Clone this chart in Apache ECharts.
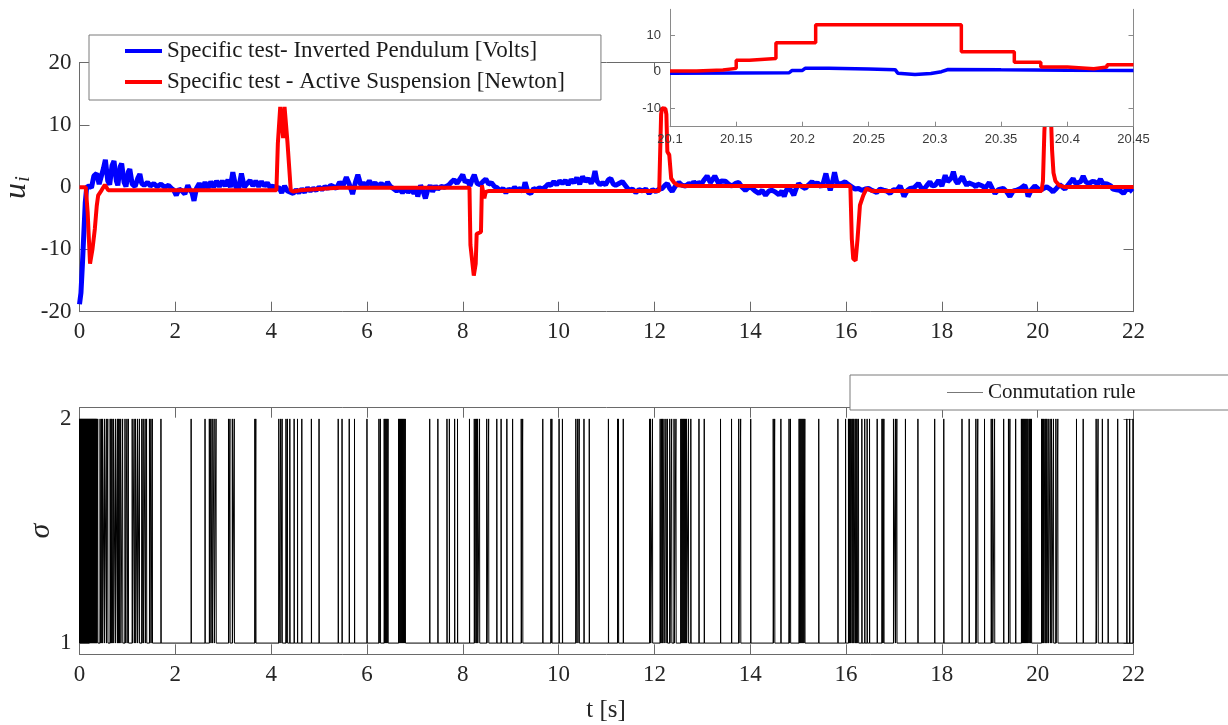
<!DOCTYPE html>
<html>
<head>
<meta charset="utf-8">
<script src="https://cdn.jsdelivr.net/npm/echarts@6/dist/echarts.min.js"></script>
<style>
  html, body { margin: 0; background: #fff; }
  #chart { width: 1228px; height: 725px; }
</style>
</head>
<body>
<div id="chart"></div>
<script>
// main plot: [t, u]
const pendulumMain = [
  [0.00,-18.8],[0.03,-17.0],[0.06,-12.5],[0.09,-7.5],[0.12,-2.5],[0.15,0.0],[0.20,0.2],[0.25,-0.1],
  [0.30,1.8],[0.36,2.2],[0.41,0.5],[0.45,0.3],[0.50,3.0],[0.54,4.4],[0.59,1.0],[0.63,0.4],
  [0.68,3.5],[0.72,4.2],[0.77,1.0],[0.80,0.3],[0.85,3.3],[0.88,3.8],[0.93,0.8],[0.97,0.1],
  [1.02,2.5],[1.05,2.9],[1.10,0.5],[1.16,0.1],[1.22,1.5],[1.26,2.1],[1.30,0.6],[1.35,0.3],
  [1.42,0.8],[1.48,0.2],[1.55,0.6],[1.62,0.1],[1.70,0.5],[1.78,0.0],[1.86,0.3],[1.92,-0.2],
  [1.97,-0.5],[2.02,-1.3],[2.08,-0.3],[2.14,-0.6],[2.20,-1.1],[2.26,0.3],[2.30,-0.4],[2.35,-0.9],
  [2.39,-2.2],[2.44,-0.2],[2.50,0.6],[2.56,-0.3],[2.62,0.8],[2.68,-0.2],[2.74,0.9],[2.80,0.0],
  [2.86,1.0],[2.92,0.1],[2.98,1.0],[3.04,0.2],[3.10,1.2],[3.15,0.0],[3.20,2.4],[3.26,0.1],
  [3.32,-0.3],[3.38,2.2],[3.44,0.0],[3.50,0.6],[3.56,1.1],[3.62,0.2],[3.68,1.0],[3.74,0.1],
  [3.80,0.9],[3.86,0.2],[3.92,0.7],[3.98,-0.1],[4.04,0.2],[4.10,-0.3],[4.16,0.0],[4.22,-0.9],
  [4.28,0.2],[4.34,-0.6],[4.40,-0.8],[4.46,-1.0],[4.52,-0.4],[4.58,-0.9],[4.64,-0.3],[4.70,-0.8],
  [4.76,-0.1],[4.82,-0.6],[4.88,-0.2],[4.94,-0.5],[5.00,0.0],[5.06,-0.4],[5.12,0.1],[5.18,-0.2],
  [5.24,0.3],[5.30,0.1],[5.36,-0.2],[5.43,0.8],[5.50,0.2],[5.57,1.6],[5.63,0.5],[5.70,-1.1],
  [5.76,0.8],[5.81,2.0],[5.87,0.4],[5.93,0.6],[5.99,0.3],[6.05,1.0],[6.11,0.3],[6.17,0.7],
  [6.23,0.2],[6.30,0.6],[6.37,0.0],[6.43,0.8],[6.48,0.2],[6.55,-0.2],[6.62,-0.6],[6.68,-0.3],
  [6.74,-0.9],[6.80,-0.2],[6.86,-0.8],[6.92,-0.3],[6.98,-1.0],[7.03,-0.2],[7.06,-1.5],[7.12,0.3],
  [7.17,-0.6],[7.22,-1.8],[7.27,-0.4],[7.32,0.3],[7.37,-0.7],[7.43,0.2],[7.48,-0.3],[7.55,0.1],
  [7.62,0.0],[7.70,0.3],[7.76,0.8],[7.82,1.2],[7.88,0.6],[7.94,1.3],[8.00,2.0],[8.05,0.8],
  [8.10,1.1],[8.15,0.2],[8.20,1.3],[8.24,2.0],[8.30,0.6],[8.36,0.4],[8.42,0.9],[8.48,1.3],
  [8.54,0.5],[8.60,0.7],[8.66,0.1],[8.72,-0.1],[8.78,-0.6],[8.84,-0.2],[8.90,-0.9],[8.96,-0.3],
  [9.02,-0.6],[9.08,0.0],[9.14,-0.5],[9.20,-0.2],[9.26,-0.7],[9.30,0.8],[9.36,-0.8],[9.42,-1.0],
  [9.48,-0.2],[9.54,-0.4],[9.60,-0.1],[9.66,-0.3],[9.72,0.0],[9.78,0.5],[9.84,0.3],[9.90,0.9],
  [9.96,0.4],[10.02,1.0],[10.08,0.6],[10.14,1.1],[10.20,0.4],[10.26,1.2],[10.32,0.7],[10.38,1.5],
  [10.44,0.5],[10.50,1.7],[10.56,0.9],[10.62,1.4],[10.68,0.6],[10.72,1.2],[10.76,2.6],[10.80,1.0],
  [10.86,0.4],[10.92,0.7],[10.98,0.4],[11.04,1.2],[11.09,1.4],[11.14,0.5],[11.19,0.3],[11.26,0.6],
  [11.33,0.9],[11.40,0.2],[11.47,-0.5],[11.54,-0.3],[11.61,-0.85],[11.68,-0.4],[11.75,-0.6],[11.82,-0.3],
  [11.89,-1.0],[11.96,-0.4],[12.03,-0.7],[12.10,-0.3],[12.16,-0.2],[12.22,0.3],[12.27,0.6],[12.32,-0.2],
  [12.37,-0.7],[12.44,0.2],[12.51,0.75],[12.58,0.3],[12.65,0.2],[12.72,0.6],[12.78,0.3],[12.82,0.9],
  [12.87,0.4],[12.92,0.75],[12.98,0.5],[13.04,1.2],[13.10,1.8],[13.17,0.75],[13.22,1.3],[13.26,1.8],
  [13.34,0.6],[13.40,1.0],[13.48,0.97],[13.55,0.5],[13.62,0.2],[13.69,0.6],[13.76,0.75],[13.83,0.0],
  [13.90,-0.5],[13.97,0.0],[14.03,-0.1],[14.10,-0.6],[14.18,-1.0],[14.25,-0.5],[14.32,-1.3],[14.39,-0.6],
  [14.46,-0.5],[14.53,-0.8],[14.60,-1.2],[14.66,-0.6],[14.71,-1.5],[14.76,-0.4],[14.81,-0.2],[14.86,-0.6],
  [14.91,-1.3],[14.96,-0.2],[15.01,0.6],[15.08,0.1],[15.15,-0.2],[15.22,0.4],[15.29,0.9],[15.35,0.4],
  [15.40,0.75],[15.48,0.05],[15.53,0.8],[15.58,2.2],[15.63,0.6],[15.67,-0.5],[15.72,0.9],[15.76,2.4],
  [15.80,1.0],[15.84,0.43],[15.91,0.6],[15.98,0.86],[16.05,0.4],[16.12,0.05],[16.19,-0.3],[16.26,-0.2],
  [16.33,-0.5],[16.40,-0.3],[16.47,-0.2],[16.54,-0.5],[16.64,-0.85],[16.71,-0.3],[16.78,-0.48],[16.85,-0.6],
  [16.92,-1.0],[16.99,-0.4],[17.06,-0.48],[17.13,0.22],[17.17,-0.6],[17.21,-1.5],[17.28,-0.5],[17.34,-0.2],
  [17.42,-0.1],[17.51,0.6],[17.56,0.0],[17.61,-0.5],[17.68,0.2],[17.75,0.86],[17.80,0.2],[17.86,0.32],
  [17.93,1.1],[18.00,0.2],[18.07,1.9],[18.12,0.9],[18.16,0.6],[18.20,1.5],[18.24,2.5],[18.29,1.0],
  [18.33,0.6],[18.38,1.2],[18.43,1.7],[18.48,0.8],[18.52,0.3],[18.56,0.7],[18.60,1.0],[18.66,0.4],
  [18.71,0.05],[18.75,0.5],[18.79,0.75],[18.85,0.2],[18.90,-0.2],[18.95,0.3],[18.99,0.75],[19.05,-0.2],
  [19.11,-1.0],[19.18,-0.4],[19.28,-0.2],[19.35,-0.7],[19.42,-1.5],[19.49,-0.6],[19.56,-0.5],[19.64,-0.2],
  [19.73,0.3],[19.77,-0.5],[19.80,-1.5],[19.87,-0.4],[19.94,0.2],[20.00,-0.2],[20.05,-0.5],[20.12,-0.2],
  [20.19,0.05],[20.26,-0.3],[20.32,-0.75],[20.39,-0.2],[20.46,0.4],[20.52,0.0],[20.57,-0.3],[20.65,0.5],
  [20.74,1.4],[20.79,0.6],[20.84,0.75],[20.90,0.9],[20.95,1.8],[21.01,0.8],[21.08,0.6],[21.13,0.9],
  [21.19,0.86],[21.25,0.5],[21.31,1.3],[21.36,0.6],[21.40,0.3],[21.45,0.5],[21.49,0.75],[21.53,0.2],
  [21.57,-0.3],[21.64,-0.4],[21.71,-0.5],[21.75,-0.2],[21.79,-1.0],[21.85,-0.4],[21.92,-0.3],[21.98,-0.75]
]

const suspensionMain = [
  [0.00,0.0],[0.13,0.0],[0.17,-4.0],[0.22,-12.3],[0.27,-10.0],[0.32,-6.7],[0.36,-3.0],[0.39,-1.3],
  [0.46,-0.5],[0.53,0.4],[0.60,-0.5],
  [4.11,-0.5],[4.14,7.0],[4.19,12.9],[4.22,12.9],[4.25,7.9],[4.28,12.9],[4.31,12.9],[4.34,7.3],
  [4.41,-0.5],[4.46,-0.7],[4.60,-0.5],[5.00,-0.3],[5.40,-0.1],
  [8.14,-0.1],[8.16,-9.3],[8.20,-9.6],[8.23,-14.2],[8.25,-14.2],[8.27,-12.3],[8.29,-7.5],[8.38,-7.2],
  [8.40,0.3],[8.45,-1.8],[8.48,-0.75],[8.55,-0.6],
  [12.10,-0.6],[12.14,11.7],[12.16,12.7],[12.23,12.6],[12.25,11.7],[12.27,5.7],[12.31,5.2],[12.35,1.4],
  [12.41,0.75],[12.49,0.3],[12.65,0.2],
  [16.09,0.2],[16.12,-8.3],[16.15,-11.5],[16.20,-11.8],[16.24,-8.3],[16.29,-2.9],[16.36,-1.3],[16.43,-0.2],
  [16.47,0.05],[16.54,-0.6],
  [20.08,-0.6],[20.11,1.0],[20.14,9.0],[20.17,13.0],[20.27,13.0],[20.30,6.0],[20.33,2.3],[20.37,1.0],
  [20.45,0.3],[20.55,0.05],[22.00,0.05]
]

// inset (zoom 20.1 - 20.45 s)
const insetRedSteps = [
  [20.10,0.2],[20.12,0.45],[20.14,0.9],[20.15,3.1],[20.16,3.6],[20.18,7.9],[20.21,12.8],
  [20.32,5.4],[20.36,2.6],[20.38,1.3],[20.40,0.8],[20.42,1.3],[20.43,1.9],[20.45,1.9]
]
const insetBlue = [
  [20.10,-0.45],[20.15,-0.35],[20.19,-0.3],[20.192,0.3],[20.20,0.35],[20.202,0.9],[20.22,0.9],
  [20.25,0.7],[20.27,0.55],[20.272,-0.4],[20.285,-0.8],[20.297,-0.5],[20.305,0.0],[20.31,0.6],
  [20.35,0.5],[20.40,0.4],[20.45,0.35]
]

// commutation rule: instants where sigma jumps to 2
const pulseTimes = [
  0.00,0.01,0.02,0.03,0.04,0.05,0.06,0.07,0.08,0.09,0.10,0.11,0.12,0.13,0.14,0.15,0.16,0.17,0.18,
  0.19,0.20,0.21,0.22,0.23,0.24,0.25,0.26,0.27,0.28,0.29,0.30,0.31,0.32,0.33,0.34,0.35,0.36,
  0.38,0.43,0.46,0.48,0.52,0.56,0.59,0.64,0.66,0.68,0.71,0.75,0.79,0.81,0.83,0.86,0.90,0.95,0.99,1.02,
  1.10,1.14,1.17,1.21,1.25,1.30,1.33,1.37,1.40,1.46,1.49,1.52,1.70,2.33,2.62,2.71,2.74,2.77,2.81,2.85,
  3.11,3.14,3.19,3.23,3.66,3.68,4.16,4.20,4.23,4.31,4.34,4.39,4.48,4.55,4.64,4.84,5.00,5.40,5.48,5.63,
  5.74,6.00,6.25,6.28,6.36,6.38,6.40,6.42,6.44,6.66,6.68,6.70,6.72,6.74,6.76,6.78,6.80,
  7.31,7.48,7.67,7.72,7.83,7.89,8.14,8.24,8.27,8.29,8.31,8.35,8.50,8.54,8.71,8.80,8.92,9.04,9.22,9.25,
  9.67,9.84,9.86,10.01,10.08,10.36,10.40,10.43,10.53,10.64,11.04,11.23,11.25,11.35,11.90,11.92,11.96,
  12.12,12.15,12.17,12.20,12.24,12.27,12.32,12.36,12.41,12.45,12.55,12.57,12.59,12.61,12.63,12.65,12.67,
  12.71,12.76,12.93,13.04,13.38,13.61,13.76,13.80,14.01,14.48,14.51,14.64,14.81,14.84,
  15.02,15.04,15.06,15.08,15.10,15.12,15.14,15.43,15.83,15.99,16.05,16.07,16.09,16.12,16.14,16.16,16.19,
  16.21,16.23,16.26,16.33,16.39,16.44,16.49,16.65,16.75,16.77,16.79,16.99,17.03,17.06,17.24,17.50,17.85,
  18.04,18.42,18.57,18.71,18.75,18.89,19.03,19.06,19.10,19.29,19.39,19.42,19.54,19.66,19.68,19.70,19.72,
  19.74,19.76,19.78,19.80,19.83,19.85,19.87,20.08,20.10,20.12,20.15,20.17,20.19,20.22,20.26,20.29,20.33,
  20.38,20.42,20.81,20.95,21.22,21.26,21.35,21.47,21.67,21.86,21.92,21.99
]
const pulseWidth = 0.004

const insetYTicks = [-10, 0, 10]
const sigmaTicks = [1, 2]

const SERIF = '"Liberation Serif", "DejaVu Serif", serif'
const SANS = '"Liberation Sans", Arial, sans-serif'
const AXIS = '#6a6a6a'
const TXT = '#262626'

let sigmaData = [[0, 1]]
pulseTimes.forEach(t => {
  sigmaData.push([t, 1], [t, 2], [t + pulseWidth, 2], [t + pulseWidth, 1])
})
sigmaData.push([22, 1])

function xAx(grid, pos, labels, extra) {
  return Object.assign({
    type: 'value', gridIndex: grid, position: pos, min: 0, max: 22, interval: 2,
    axisLine: { show: true, onZero: false, lineStyle: { color: AXIS, width: 1 } },
    axisTick: { show: true, inside: true, length: 10, lineStyle: { color: AXIS } },
    axisLabel: { show: labels, color: TXT, fontFamily: SERIF, fontSize: 23, margin: 9 },
    splitLine: { show: false }
  }, extra || {})
}
function yAx(grid, pos, labels, extra) {
  return Object.assign({
    type: 'value', gridIndex: grid, position: pos,
    axisLine: { show: true, onZero: false, lineStyle: { color: AXIS, width: 1 } },
    axisTick: { show: true, inside: true, length: 10, lineStyle: { color: AXIS } },
    axisLabel: { show: labels, color: TXT, fontFamily: SERIF, fontSize: 23, margin: 8 },
    splitLine: { show: false }
  }, extra || {})
}

const insetAxisStyle = {
  z: 11,
  axisLine: { show: true, onZero: false, lineStyle: { color: '#8a8a8a', width: 1 } },
  axisTick: { show: true, inside: true, length: 5, lineStyle: { color: '#8a8a8a' } },
  splitLine: { show: false }
}

const chart = echarts.init(document.getElementById('chart'))
chart.setOption({
  animation: false,
  backgroundColor: '#fff',
  grid: [
    { left: 79.5, width: 1054, top: 62.7, height: 249, outerBoundsMode: 'none' },
    { left: 670, width: 463.5, top: 9.3, height: 117.4, show: true, backgroundColor: '#fff',
      borderWidth: 0, z: 10, outerBoundsMode: 'none' },
    { left: 79.5, width: 1054, top: 407.7, height: 246.6, outerBoundsMode: 'none' }
  ],
  xAxis: [
    xAx(0, 'bottom', true),
    xAx(0, 'top', false),
    Object.assign({
      type: 'value', gridIndex: 1, position: 'bottom', min: 20.1, max: 20.45, interval: 0.05,
      axisLabel: { color: '#3a3a3a', fontFamily: SANS, fontSize: 13, margin: 6,
        formatter: v => String(+v.toFixed(2)) }
    }, insetAxisStyle),
    xAx(2, 'bottom', true),
    xAx(2, 'top', false)
  ],
  yAxis: [
    yAx(0, 'left', true, { min: -20, max: 20, interval: 10 }),
    yAx(0, 'right', false, { min: -20, max: 20, interval: 10 }),
    Object.assign({
      type: 'value', gridIndex: 1, position: 'left', min: -15, max: 17,
      axisLabel: { color: '#3a3a3a', fontFamily: SANS, fontSize: 13, margin: 9, customValues: insetYTicks }
    }, insetAxisStyle, { axisTick: Object.assign({}, insetAxisStyle.axisTick, { customValues: insetYTicks }) }),
    Object.assign({
      type: 'value', gridIndex: 1, position: 'right', min: -15, max: 17,
      axisLabel: { show: false }
    }, insetAxisStyle, { axisTick: Object.assign({}, insetAxisStyle.axisTick, { customValues: insetYTicks }) }),
    yAx(2, 'left', true, { min: 0.95, max: 2.05,
      axisLabel: { color: TXT, fontFamily: SERIF, fontSize: 23, margin: 8, customValues: sigmaTicks },
      axisTick: { show: true, inside: true, length: 10, lineStyle: { color: AXIS }, customValues: sigmaTicks } }),
    yAx(2, 'right', false, { min: 0.95, max: 2.05,
      axisTick: { show: true, inside: true, length: 10, lineStyle: { color: AXIS }, customValues: sigmaTicks } })
  ],
  legend: [
    {
      left: 89, top: 35, orient: 'vertical', z: 20,
      padding: [4, 36, 6, 36], itemGap: 7, itemWidth: 37, itemHeight: 4,
      backgroundColor: '#fff', borderColor: '#7a7a7a', borderWidth: 1,
      textStyle: { fontFamily: SERIF, fontSize: 23, color: '#1a1a1a', lineHeight: 24 },
      data: [
        { name: 'Specific test- Inverted Pendulum [Volts]', icon: 'rect' },
        { name: 'Specific test - Active Suspension [Newton]', icon: 'rect' }
      ]
    },
    {
      left: 850, top: 375, orient: 'vertical', z: 20,
      padding: [7, 110, 7, 97], itemWidth: 36, itemHeight: 1,
      backgroundColor: '#fff', borderColor: '#7a7a7a', borderWidth: 1,
      textStyle: { fontFamily: SERIF, fontSize: 21, color: '#1a1a1a', lineHeight: 20 },
      data: [{ name: 'Conmutation rule', icon: 'rect', itemStyle: { color: '#777' } }]
    }
  ],
  graphic: [
    { type: 'text', x: 17, y: 191, rotation: Math.PI / 2,
      style: { text: 'u', fontFamily: SERIF, fontSize: 32, fontStyle: 'italic', fill: TXT,
        align: 'center', verticalAlign: 'middle' } },
    { type: 'text', x: 24, y: 179, rotation: Math.PI / 2,
      style: { text: 'i', fontFamily: SERIF, fontSize: 20, fontStyle: 'italic', fill: TXT,
        align: 'center', verticalAlign: 'middle' } },
    { type: 'text', x: 41, y: 531, rotation: Math.PI / 2,
      style: { text: 'σ', fontFamily: SERIF, fontSize: 30, fontStyle: 'italic', fill: TXT,
        align: 'center', verticalAlign: 'middle' } },
    { type: 'text', x: 606, y: 710,
      style: { text: 't [s]', fontFamily: SERIF, fontSize: 25, fill: TXT,
        align: 'center', verticalAlign: 'middle' } }
  ],
  series: [
    { name: 'Specific test- Inverted Pendulum [Volts]', type: 'line', xAxisIndex: 0, yAxisIndex: 0,
      data: pendulumMain, showSymbol: false, symbol: 'none', z: 2,
      itemStyle: { color: '#0000ff' }, lineStyle: { color: '#0000ff', width: 5 } },
    { name: 'Specific test - Active Suspension [Newton]', type: 'line', xAxisIndex: 0, yAxisIndex: 0,
      data: suspensionMain, showSymbol: false, symbol: 'none', z: 3,
      itemStyle: { color: '#ff0000' }, lineStyle: { color: '#ff0000', width: 4 } },
    { name: 'inset pendulum', type: 'line', xAxisIndex: 2, yAxisIndex: 2,
      data: insetBlue, showSymbol: false, symbol: 'none', z: 12,
      lineStyle: { color: '#0000ff', width: 3.5 } },
    { name: 'inset suspension', type: 'line', xAxisIndex: 2, yAxisIndex: 2, step: 'end',
      data: insetRedSteps, showSymbol: false, symbol: 'none', z: 13,
      lineStyle: { color: '#ff0000', width: 3.5 } },
    { name: 'Conmutation rule', type: 'line', xAxisIndex: 3, yAxisIndex: 4,
      data: sigmaData, showSymbol: false, symbol: 'none', sampling: null,
      itemStyle: { color: '#000' }, lineStyle: { color: '#000', width: 1 } }
  ]
})
</script>
</body>
</html>
